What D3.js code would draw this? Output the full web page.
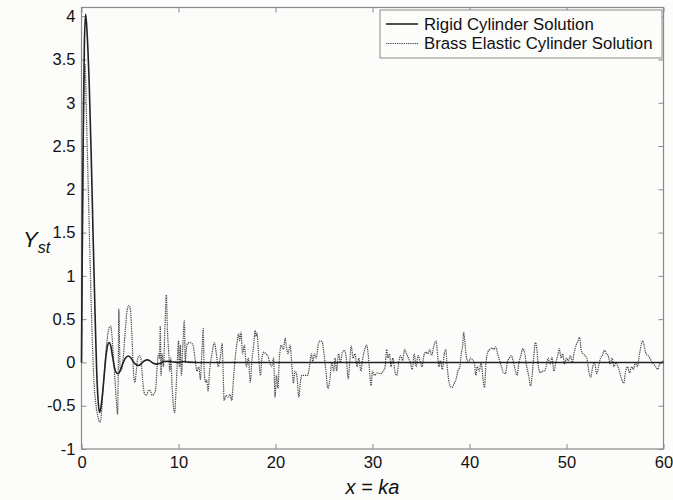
<!DOCTYPE html>
<html><head><meta charset="utf-8">
<script src="https://cdn.jsdelivr.net/npm/d3@7/dist/d3.min.js"></script>
<style>body{margin:0;background:#fcfcfa;}svg{display:block;font-family:"Liberation Sans",Arial,sans-serif;}</style>
</head><body>
<script>
const xTicks = [0,10,20,30,40,50,60];
const yTicks = [-1,-0.5,0,0.5,1,1.5,2,2.5,3,3.5,4];
const seriesNames = ["Rigid Cylinder Solution","Brass Elastic Cylinder Solution"];

const rigidData = [[0,0],[0.05,0.9],[0.1,1.7],[0.2,2.9],[0.3,3.7],[0.43,4.02],[0.58,3.8],[0.8,3.2],[1.0,2.4],[1.2,1.45],[1.4,0.55],[1.55,-0.05],[1.7,-0.42],[1.86,-0.58],[2.0,-0.52],[2.15,-0.38],[2.3,-0.2],[2.5,0.05],[2.7,0.2],[2.85,0.23],[3.0,0.2],[3.2,0.07],[3.4,-0.06],[3.6,-0.12],[3.8,-0.13],[4.0,-0.09],[4.3,0.0],[4.6,0.06],[4.85,0.075],[5.1,0.05],[5.4,0.0],[5.7,-0.03],[5.9,-0.035],[6.2,-0.01],[6.5,0.02],[6.8,0.03],[7.1,0.015],[7.4,-0.01],[7.8,-0.02],[8.1,-0.01],[8.5,0.01],[9,0.012],[9.5,0.005],[10,0.0],[10.5,0.008],[11,0.004],[12,0.0],[20,0.0],[30,0.0],[40,0.0],[50,0.0],[60,0.0]];

const brassData = [[0,0],[0.1,1.2],[0.2,2.6],[0.3,3.3],[0.35,3.45],[0.42,3.3],[0.5,2.9],[0.7,2.0],[0.9,1.1],[1.1,0.3],[1.3,-0.25],[1.5,-0.5],[1.7,-0.63],[1.9,-0.69],[2.05,-0.6],[2.2,-0.35],[2.4,-0.05],[2.6,0.22],[2.8,0.38],[3.0,0.42],[3.15,0.3],[3.3,0.05],[3.45,-0.2],[3.6,-0.45],[3.72,-0.6],[3.78,-0.2],[3.85,0.62],[3.92,0.2],[4.0,-0.1],[4.15,-0.08],[4.3,0.05],[4.5,0.35],[4.7,0.6],[4.9,0.66],[5.05,0.6],[5.2,0.3],[5.35,-0.1],[5.5,-0.23],[5.65,-0.1],[5.8,0.05],[6.0,0.08],[6.15,0.02],[6.3,-0.2],[6.5,-0.36],[6.7,-0.38],[6.9,-0.32],[7.1,-0.33],[7.3,-0.38],[7.5,-0.36],[7.65,-0.3],[7.8,-0.05],[7.95,0.1],[8.05,0.05],[8.12,0.42],[8.2,-0.15],[8.3,0.1],[8.45,-0.05],[8.6,0.4],[8.75,0.78],[8.85,0.4],[9.0,0.1],[9.1,-0.1],[9.2,0.05],[9.35,-0.3],[9.6,-0.58],[9.75,-0.3],[9.9,0.05],[10.0,0.25],[10.1,-0.05],[10.2,0.2],[10.3,-0.15],[10.45,0.2],[10.6,0.48],[10.7,0.0],[10.8,0.15],[10.95,0.22],[11.2,0.23],[11.5,0.2],[11.7,0.05],[11.9,-0.1],[12.1,-0.05],[12.25,-0.2],[12.4,0.1],[12.55,0.39],[12.65,-0.1],[12.8,-0.23],[12.9,-0.2],[13.05,-0.33],[13.2,-0.1],[13.45,0.1],[13.7,0.23],[13.9,0.1],[14.1,-0.05],[14.3,0.05],[14.5,0.22],[14.6,-0.1],[14.7,-0.44],[14.9,-0.38],[15.1,-0.4],[15.3,-0.37],[15.5,-0.44],[15.6,-0.3],[15.8,0.0],[16.0,0.2],[16.2,0.33],[16.3,0.25],[16.45,0.35],[16.6,0.1],[16.8,0.2],[17.0,-0.05],[17.2,0.05],[17.4,-0.23],[17.55,0.0],[17.75,0.2],[17.9,0.37],[18.0,0.3],[18.1,0.34],[18.25,0.1],[18.45,-0.15],[18.6,0.05],[18.8,0.12],[19.0,0.1],[19.2,0.08],[19.4,0.0],[19.6,-0.05],[19.8,0.05],[19.95,-0.4],[20.1,-0.15],[20.25,-0.3],[20.4,0.05],[20.6,0.2],[20.8,0.15],[21.0,0.28],[21.1,0.2],[21.3,0.1],[21.5,0.2],[21.7,-0.05],[21.85,-0.24],[22.0,-0.1],[22.2,-0.15],[22.4,-0.4],[22.55,-0.25],[22.7,-0.15],[23.0,-0.15],[23.3,-0.15],[23.5,-0.05],[23.7,0.1],[23.85,0.0],[24.0,0.1],[24.2,0.05],[24.4,0.2],[24.6,0.25],[24.8,0.24],[25.0,0.1],[25.2,-0.1],[25.4,-0.3],[25.6,-0.2],[25.8,0.0],[26.0,-0.1],[26.15,0.05],[26.3,-0.1],[26.5,0.1],[26.7,0.0],[26.9,0.12],[27.1,0.14],[27.3,0.05],[27.5,-0.19],[27.65,0.0],[27.8,0.19],[28.0,0.05],[28.2,0.1],[28.4,-0.05],[28.6,0.05],[28.8,-0.1],[29.0,0.05],[29.2,0.15],[29.4,0.2],[29.55,0.1],[29.7,-0.1],[29.85,-0.27],[30.0,-0.1],[30.2,-0.15],[30.5,-0.12],[30.8,-0.13],[31.1,-0.1],[31.3,-0.05],[31.45,0.15],[31.6,0.05],[31.75,0.1],[31.9,-0.05],[32.1,0.05],[32.3,-0.1],[32.5,-0.15],[32.7,0.0],[32.9,0.08],[33.1,0.02],[33.3,0.15],[33.5,0.1],[33.7,0.05],[33.9,0.0],[34.1,-0.08],[34.3,0.1],[34.5,-0.05],[34.7,0.08],[34.9,0.02],[35.1,-0.05],[35.3,0.08],[35.5,0.12],[35.7,0.1],[35.9,0.15],[36.1,0.08],[36.3,0.18],[36.55,0.25],[36.7,0.1],[36.85,-0.05],[37.0,0.02],[37.2,-0.08],[37.4,0.1],[37.55,0.15],[37.7,-0.05],[37.85,-0.2],[38.0,-0.27],[38.2,-0.29],[38.4,-0.25],[38.6,-0.2],[38.8,-0.1],[39.0,-0.05],[39.15,0.1],[39.3,0.2],[39.4,0.35],[39.55,0.2],[39.7,0.05],[39.9,0.0],[40.1,0.05],[40.3,0.03],[40.5,0.0],[40.65,-0.15],[40.8,-0.05],[41.0,-0.1],[41.2,0.0],[41.4,-0.2],[41.55,-0.29],[41.7,0.0],[41.9,0.12],[42.1,0.15],[42.3,0.17],[42.5,0.15],[42.7,0.18],[42.9,0.1],[43.1,0.02],[43.3,-0.05],[43.5,-0.12],[43.7,-0.13],[43.9,0.0],[44.1,0.05],[44.3,0.08],[44.5,0.02],[44.7,-0.08],[44.9,-0.15],[45.1,0.0],[45.3,0.08],[45.5,0.16],[45.7,0.1],[45.9,-0.05],[46.1,-0.15],[46.3,-0.27],[46.5,-0.1],[46.65,0.1],[46.8,0.23],[46.95,0.15],[47.1,-0.05],[47.3,-0.12],[47.5,-0.1],[47.7,-0.1],[47.9,-0.05],[48.1,0.05],[48.3,-0.02],[48.5,0.06],[48.7,-0.1],[48.9,0.0],[49.1,0.08],[49.25,0.16],[49.45,0.05],[49.6,0.1],[49.8,-0.02],[50.0,0.05],[50.2,0.02],[50.4,0.08],[50.6,0.0],[50.8,0.12],[51.0,0.2],[51.2,0.25],[51.35,0.29],[51.5,0.15],[51.7,0.1],[51.9,0.08],[52.1,0.05],[52.3,-0.1],[52.5,-0.17],[52.7,-0.05],[52.9,0.0],[53.1,-0.13],[53.3,-0.05],[53.5,0.05],[53.7,0.08],[53.9,0.14],[54.1,0.1],[54.3,0.08],[54.5,-0.02],[54.7,0.05],[54.9,-0.05],[55.1,0.0],[55.3,-0.05],[55.5,-0.12],[55.7,-0.2],[55.9,-0.24],[56.1,-0.1],[56.3,-0.05],[56.5,-0.12],[56.7,-0.05],[56.9,-0.08],[57.1,0.0],[57.3,-0.05],[57.5,0.08],[57.7,0.2],[57.85,0.25],[58.0,0.2],[58.2,0.1],[58.4,0.08],[58.6,0.05],[58.8,0.0],[59.0,-0.02],[59.2,-0.05],[59.4,-0.08],[59.6,-0.02],[59.8,0.0],[60,0.02]];

const W = 673, H = 500;
const m = {left: 81.5, right: 9.5, top: 7.5, bottom: 51};
const svg = d3.select("body").append("svg").attr("width", W).attr("height", H);
svg.append("rect").attr("width", W).attr("height", H).attr("fill", "#fcfcfa");

const x = d3.scaleLinear().domain([0, 60]).range([m.left, W - m.right]);
const y = d3.scaleLinear().domain([-1, 4.1]).range([H - m.bottom, m.top]);

const axisColor = "#8a8a8a";
function styleAxis(g){
  g.select(".domain").remove();
  g.selectAll(".tick line").attr("stroke", axisColor).attr("stroke-width", 1);
  g.selectAll(".tick text").attr("fill", "#111").attr("font-size", 16.5);
}
// bottom
svg.append("g").attr("transform", `translate(0,${y(-1)})`)
  .call(d3.axisBottom(x).tickValues(xTicks).tickSize(-5).tickPadding(6).tickFormat(d => String(d)))
  .call(styleAxis).call(g => g.selectAll(".tick text").attr("dy", "0.8em"));
// top
svg.append("g").attr("transform", `translate(0,${y(4.1)})`)
  .call(d3.axisTop(x).tickValues(xTicks).tickSize(-5).tickFormat(""))
  .call(styleAxis);
// left
svg.append("g").attr("transform", `translate(${x(0)},0)`)
  .call(d3.axisLeft(y).tickValues(yTicks).tickSize(-5).tickPadding(6).tickFormat(d => String(d)))
  .call(styleAxis);
// right
svg.append("g").attr("transform", `translate(${x(60)},0)`)
  .call(d3.axisRight(y).tickValues(yTicks).tickSize(-5).tickFormat(""))
  .call(styleAxis);

// frame
svg.append("rect").attr("x", x(0)).attr("y", y(4.1)).attr("width", x(60) - x(0)).attr("height", y(-1) - y(4.1))
  .attr("fill", "none").attr("stroke", axisColor).attr("stroke-width", 1.2);

const line = d3.line().x(d => x(d[0])).y(d => y(d[1])).curve(d3.curveMonotoneX);
const plot = svg.append("g");
plot.append("path").datum(brassData).attr("d", line).attr("fill", "none")
  .attr("stroke", "#4a4a4a").attr("stroke-width", 1.2).attr("stroke-dasharray", "1.3,0.9");
plot.append("path").datum(rigidData).attr("d", line).attr("fill", "none")
  .attr("stroke", "#222").attr("stroke-width", 1.6);

// legend
const lg = svg.append("g");
const lx = 380, ly = 10, lw = 282, lh = 48;
lg.append("rect").attr("x", lx).attr("y", ly).attr("width", lw).attr("height", lh)
  .attr("fill", "#fcfcfa").attr("stroke", axisColor).attr("stroke-width", 1);
const styles = [{stroke:"#222", w:1.6, dash:null},{stroke:"#4a4a4a", w:1.2, dash:"1.3,0.9"}];
seriesNames.forEach((name, i) => {
  const yy = ly + 14 + i * 19.5;
  lg.append("line").attr("x1", lx + 6).attr("x2", lx + 38).attr("y1", yy).attr("y2", yy)
    .attr("stroke", styles[i].stroke).attr("stroke-width", styles[i].w)
    .attr("stroke-dasharray", styles[i].dash);
  lg.append("text").attr("x", lx + 44).attr("y", yy).attr("dy", "0.35em")
    .attr("font-size", 16.8).attr("fill", "#111").text(name);
});

// axis labels
svg.append("text").attr("x", x(30)).attr("y", 494).attr("text-anchor", "middle")
  .attr("font-size", 20).attr("font-style", "italic").attr("fill", "#111").text("x = ka");
const yl = svg.append("text").attr("x", 23).attr("y", 247).attr("font-size", 22)
  .attr("font-style", "italic").attr("fill", "#111");
yl.append("tspan").text("Y");
yl.append("tspan").attr("font-size", 16).attr("dy", 6).text("st");
</script>
</body></html>
